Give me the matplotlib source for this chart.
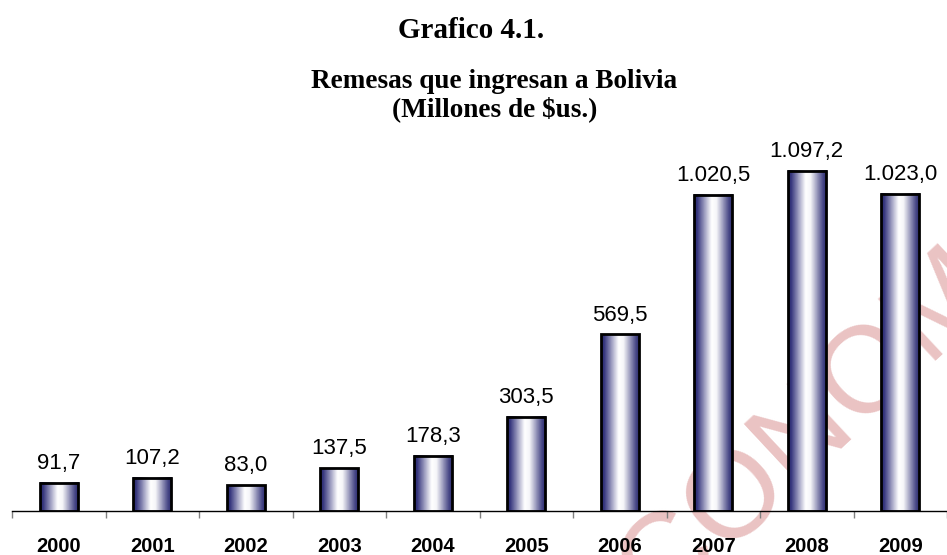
import numpy as np
import matplotlib
matplotlib.use("Agg")
import matplotlib.pyplot as plt
from matplotlib.colors import LinearSegmentedColormap

# Remesas que ingresan a Bolivia (millones de $us.)
years = ['2000', '2001', '2002', '2003', '2004', '2005', '2006', '2007', '2008', '2009']
remesas = [91.7, 107.2, 83.0, 137.5, 178.3, 303.5, 569.5, 1020.5, 1097.2, 1023.0]


def fmt_es(v):
    # 1,020.5 -> 1.020,5
    s = f"{v:,.1f}"
    return s.replace(',', 'X').replace('.', ',').replace('X', '.')


fig = plt.figure(figsize=(9.47, 5.55), dpi=100)
ax = fig.add_axes([12 / 947, 44 / 555, 1 - 12 / 947, 372 / 555])
ax.patch.set_visible(False)

# watermark behind everything
fig.text(0.866, 0.250, 'ECONOMIA', fontsize=88, family='Liberation Sans',
         color='#eac3c3', rotation=43, rotation_mode='anchor',
         ha='center', va='center', zorder=-5)

cmap = LinearSegmentedColormap.from_list('barra', [
    (0.0, '#26266c'), (0.08, '#38387f'), (0.45, '#ffffff'),
    (0.58, '#f6f6f9'), (0.9, '#4a4a88'), (1.0, '#26266c')])
grad = np.linspace(0, 1, 64).reshape(1, -1)

x = np.arange(len(years))
w = 0.41
for xi, v in zip(x, remesas):
    ax.imshow(grad, extent=(xi - w / 2, xi + w / 2, 0, v), aspect='auto',
              cmap=cmap, zorder=2, interpolation='bilinear')
ax.bar(x, remesas, width=w, fill=False, edgecolor='black', linewidth=2, zorder=3)

for xi, v in zip(x, remesas):
    ax.annotate(fmt_es(v), (xi, v), xytext=(0, 10), textcoords='offset points',
                ha='center', va='baseline', fontsize=16, family='Liberation Sans',
                annotation_clip=False)

ax.set_xlim(-0.5, -0.5 + 935 / 94.5)
ax.set_ylim(0, 1200)

for side in ['top', 'left', 'right']:
    ax.spines[side].set_visible(False)
ax.spines['bottom'].set_linewidth(1.0)
ax.set_yticks([])

ax.set_xticks(x)
ax.set_xticklabels(years, fontsize=14.5, fontweight='bold', family='Liberation Sans')
ax.tick_params(axis='x', which='major', length=0, pad=19)
ax.set_xticks(np.arange(-0.5, 10, 1), minor=True)
ax.tick_params(axis='x', which='minor', length=5, width=1, color='#808080')

fig.text(0.497, 1 - 30 / 555, 'Grafico 4.1.', fontsize=21, fontweight='bold',
         family='Liberation Serif', ha='center', va='center')
fig.text(0.522, 1 - 82 / 555, 'Remesas que ingresan a Bolivia', fontsize=19.6,
         fontweight='bold', family='Liberation Serif', ha='center', va='center')
fig.text(0.522, 1 - 109 / 555, '(Millones de $us.)', fontsize=19.6,
         fontweight='bold', family='Liberation Serif', ha='center', va='center')

fig.savefig('out.png', dpi=100)
